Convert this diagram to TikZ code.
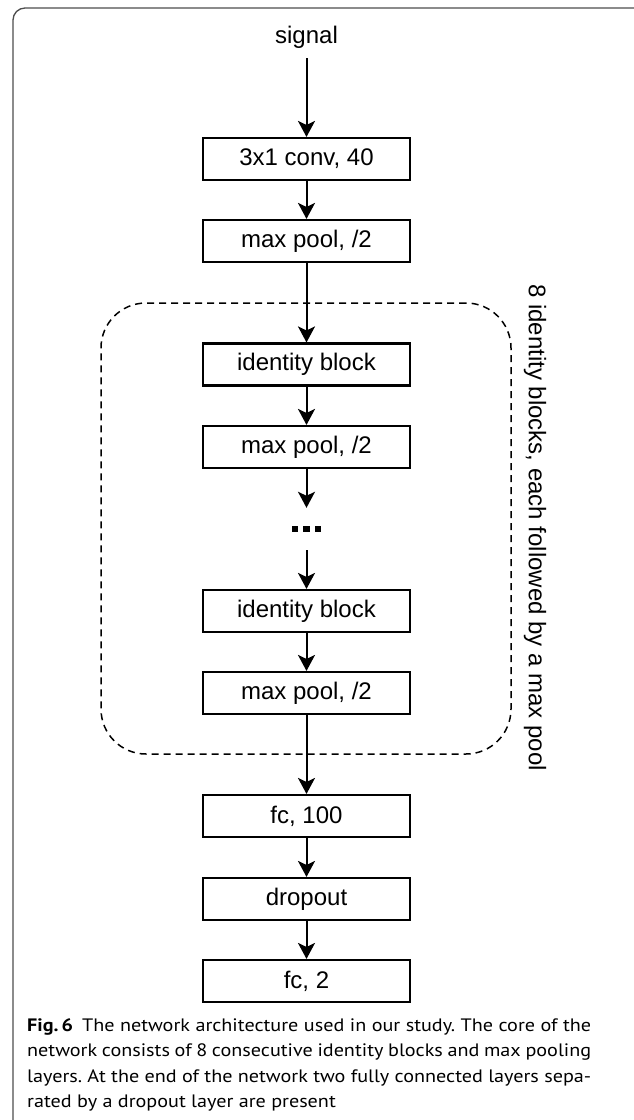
\documentclass[tikz,border=0pt]{standalone}
\usepackage{fontspec}
\setmainfont{Liberation Sans}
\newfontfamily\capfont[FakeStretch=1.12]{PT Sans}
\usetikzlibrary{arrows.meta}
\definecolor{framegray}{HTML}{4D4D4D}
\tikzset{
  layer/.style={draw, line width=2.1pt, minimum width=207pt, minimum height=42pt, inner sep=0pt,
    font=\fontsize{24}{28}\selectfont},
  arr/.style={line width=2pt, -{Stealth[length=16pt, width=17pt, inset=4pt]}},
  grpbox/.style={draw, line width=1.5pt, dash pattern=on 7pt off 5pt, rounded corners=45pt,
    minimum width=410pt, minimum height=451pt, inner sep=0pt},
  lbl/.style={font=\fontsize{24}{28}\selectfont, inner sep=0pt},
  dotsq/.style={fill=black, minimum size=6.5pt, inner sep=0pt},
}
\begin{document}
\begin{tikzpicture}[x=1pt, y=-1pt]
\useasboundingbox (0,0) rectangle (634,1120);
% outer frame
\draw[framegray, line width=1.3pt, rounded corners=12pt] (13,1140) -- (13,8) -- (646,8) -- (646,1140);
% nodes
\node[lbl, anchor=base] (sig) at (306.5,43) {signal};
\node[layer] (conv) at (306.5,159) {3x1 conv, 40};
\node[layer] (mp1) at (306.5,241) {max pool, /2};
\node[grpbox] (grp) at (306,528.5) {};
\node[layer] (id1) at (306.5,364.5) {identity block};
\node[layer] (mp2) at (306.5,447) {max pool, /2};
\node[minimum width=40pt, minimum height=42pt, inner sep=0pt] (dots) at (306.5,529) {};
\node[dotsq] (d1) at ([xshift=-11.5pt]dots.center) {};
\node[dotsq] (d2) at (dots.center) {};
\node[dotsq] (d3) at ([xshift=11.5pt]dots.center) {};
\node[layer] (id2) at (306.5,611) {identity block};
\node[layer] (mp3) at (306.5,693) {max pool, /2};
\node[layer] (fc1) at (306.5,816) {fc, 100};
\node[layer] (drop) at (306.5,899) {dropout};
\node[layer] (fc2) at (306.5,981) {fc, 2};
\node[lbl, rotate=-90] (glabel) at (535,527.5) {8 identity blocks, each followed by a max pool};
% connectors
\draw[arr, shorten <=10pt] (sig.south) -- (conv);
\draw[arr] (conv) -- (mp1);
\draw[arr] (mp1) -- (id1);
\draw[arr] (id1) -- (mp2);
\draw[arr] (mp2) -- (dots);
\draw[arr] (dots) -- (id2);
\draw[arr] (id2) -- (mp3);
\draw[arr] (mp3) -- (fc1);
\draw[arr] (fc1) -- (drop);
\draw[arr] (drop) -- (fc2);
% caption
\node[anchor=north west, inner sep=0pt, text width=564pt, align=justify,
  font=\capfont\fontsize{18}{25.5}\selectfont\frenchspacing] (cap) at (27,1018)
  {\textbf{Fig.\,6}\enspace The network architecture used in our study. The core of the\linebreak
   network consists of 8 consecutive identity blocks and max pooling\linebreak
   layers. At the end of the network two fully connected layers sepa-\linebreak
   rated by a dropout layer are present};
\end{tikzpicture}
\end{document}
